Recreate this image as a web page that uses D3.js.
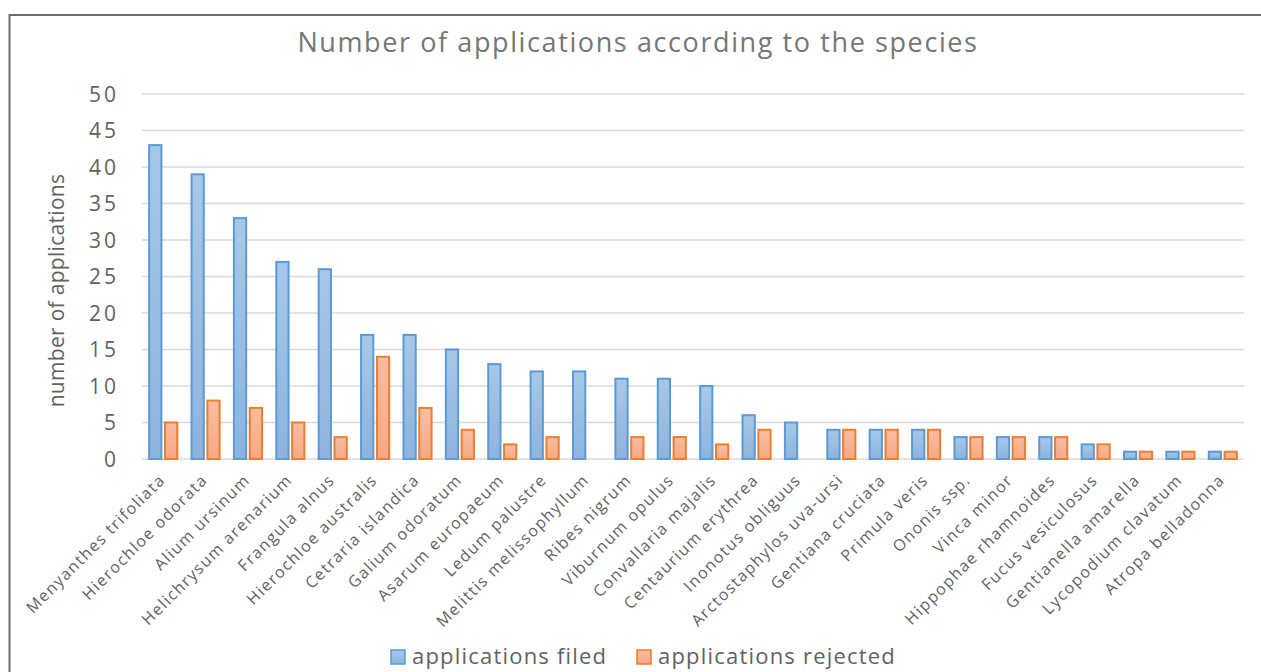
<!DOCTYPE html>
<html>
<head>
<meta charset="utf-8">
<script src="https://cdn.jsdelivr.net/npm/d3@7"></script>
<style>
  body { margin: 0; background: #fff; }
  svg text { font-family: "Open Sans", "Noto Sans", sans-serif; fill: #626262; }
</style>
</head>
<body>
<svg id="chart"></svg>
<script>
const species = [
  "Menyanthes trifoliata", "Hierochloe odorata", "Alium ursinum", "Helichrysum arenarium",
  "Frangula alnus", "Hierochloe australis", "Cetraria islandica", "Galium odoratum",
  "Asarum europaeum", "Ledum palustre", "Melittis melissophyllum", "Ribes nigrum",
  "Viburnum opulus", "Convallaria majalis", "Centaurium erythrea", "Inonotus obliguus",
  "Arctostaphylos uva-ursi", "Gentiana cruciata", "Primula veris", "Ononis ssp.",
  "Vinca minor", "Hippophae rhamnoides", "Fucus vesiculosus", "Gentianella amarella",
  "Lycopodium clavatum", "Atropa belladonna"
];
const filed = [43, 39, 33, 27, 26, 17, 17, 15, 13, 12, 12, 11, 11, 10, 6, 5, 4, 4, 4, 3, 3, 3, 2, 1, 1, 1];
const rejected = [5, 8, 7, 5, 3, 14, 7, 4, 2, 3, 0, 3, 3, 2, 4, 0, 4, 4, 4, 3, 3, 3, 2, 1, 1, 1];
const seriesNames = ["applications filed", "applications rejected"];
const yTicks = [0, 5, 10, 15, 20, 25, 30, 35, 40, 45, 50];

const size = { width: 1261, height: 672 };
const margin = { top: 94, right: 17, bottom: 213, left: 142 };

const svg = d3.select("#chart").attr("width", size.width).attr("height", size.height);

// gradients for the bars
const defs = svg.append("defs");
const grads = [
  { id: "gBlue", top: "#a7c8e8", bottom: "#8db3de" },
  { id: "gOrange", top: "#f9bda3", bottom: "#f5a984" }
];
grads.forEach((g) => {
  const lg = defs.append("linearGradient").attr("id", g.id).attr("x1", 0).attr("y1", 0).attr("x2", 0).attr("y2", 1);
  lg.append("stop").attr("offset", "0%").attr("stop-color", g.top);
  lg.append("stop").attr("offset", "100%").attr("stop-color", g.bottom);
});
const strokes = ["#5b9bd5", "#ed7d31"];
const fills = ["url(#gBlue)", "url(#gOrange)"];

// outer frame (cut off at right/bottom)
svg.append("rect")
  .attr("x", 9.5).attr("y", 15)
  .attr("width", 1300).attr("height", 700)
  .attr("fill", "none").attr("stroke", "#6b6b6b").attr("stroke-width", 2);

const x = d3.scaleBand()
  .domain(species)
  .range([margin.left, size.width - margin.right])
  .paddingInner(0.29)
  .paddingOuter(0.145);

const x1 = d3.scaleBand().domain([0, 1]).range([0, x.bandwidth()]).paddingInner(0.1);

const y = d3.scaleLinear()
  .domain([0, 50])
  .range([size.height - margin.bottom, margin.top]);

// gridlines + tick labels
yTicks.forEach((t) => {
  svg.append("line")
    .attr("x1", margin.left).attr("x2", size.width - margin.right)
    .attr("y1", y(t)).attr("y2", y(t))
    .attr("stroke", "#d9d9d9").attr("stroke-width", 1.5);
  svg.append("text")
    .attr("x", 119).attr("y", y(t))
    .attr("dy", "0.36em")
    .attr("text-anchor", "end")
    .style("font-size", "21px")
    .style("letter-spacing", "3px")
    .text(t);
});

// bars
const groups = svg.append("g").selectAll("g")
  .data(species)
  .enter()
  .append("g")
  .attr("transform", (d) => `translate(${x(d)},0)`);

[filed, rejected].forEach((vals, s) => {
  groups.filter((d, i) => vals[i] > 0)
    .append("rect")
    .attr("x", x1(s) + 1)
    .attr("width", x1.bandwidth() - 2)
    .attr("y", (d) => y(vals[species.indexOf(d)]))
    .attr("height", (d) => y(0) - y(vals[species.indexOf(d)]))
    .attr("fill", fills[s])
    .attr("stroke", strokes[s])
    .attr("stroke-width", 2);
});

// category labels
svg.append("g").selectAll("text")
  .data(species)
  .enter()
  .append("text")
  .attr("text-anchor", "end")
  .style("font-size", "16px")
  .style("letter-spacing", "1.4px")
  .attr("transform", (d) => `translate(${x(d) + x.bandwidth() / 2 + 3},${y(0) + 22}) rotate(-45)`)
  .text((d) => d);

// title
svg.append("text")
  .attr("x", 638).attr("y", 52)
  .attr("text-anchor", "middle")
  .style("font-size", "27px")
  .style("letter-spacing", "1.6px")
  .style("fill", "#767676")
  .text("Number of applications according to the species");

// y axis title
svg.append("text")
  .attr("transform", `translate(64,${(y(0) + y(50)) / 2 + 14}) rotate(-90)`)
  .attr("text-anchor", "middle")
  .style("font-size", "21px")
  .style("letter-spacing", "0.3px")
  .text("number of applications");

// legend
const legendX = [391, 637];
seriesNames.forEach((name, s) => {
  svg.append("rect")
    .attr("x", legendX[s]).attr("y", 650)
    .attr("width", 14).attr("height", 14)
    .attr("fill", fills[s]).attr("stroke", strokes[s]).attr("stroke-width", 1.5);
  svg.append("text")
    .attr("x", legendX[s] + 21).attr("y", 664)
    .style("font-size", "22px")
    .style("letter-spacing", "1.2px")
    .text(name);
});
</script>
</body>
</html>
